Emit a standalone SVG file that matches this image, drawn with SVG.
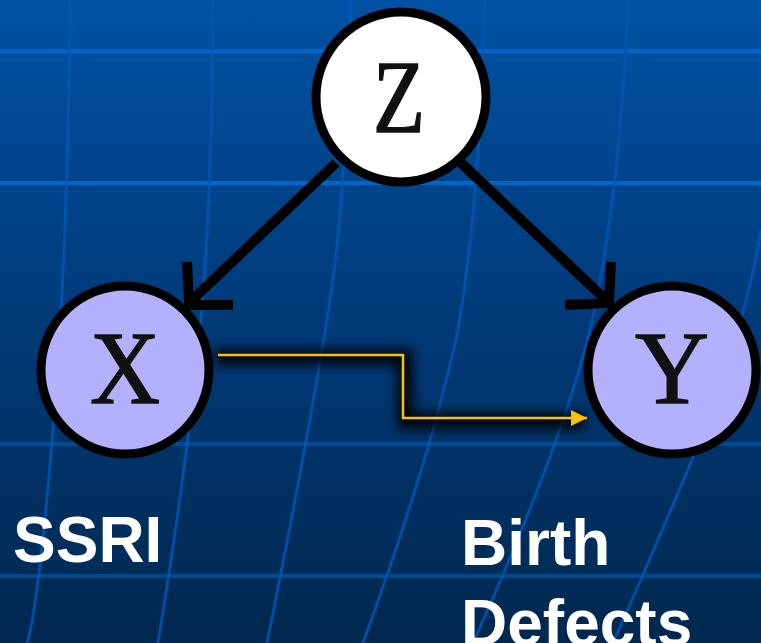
<svg xmlns="http://www.w3.org/2000/svg" width="761" height="643" viewBox="0 0 761 643">
<defs>
<linearGradient id="bg" x1="0" y1="0" x2="0" y2="1">
<stop offset="0" stop-color="#0052a4"/>
<stop offset="0.5" stop-color="#003a78"/>
<stop offset="1" stop-color="#00284f"/>
</linearGradient>
<filter id="shadow" x="-20%" y="-60%" width="140%" height="220%">
<feGaussianBlur stdDeviation="6"/>
</filter>
<marker id="tri" markerWidth="16" markerHeight="16" refX="16" refY="8" orient="auto" markerUnits="userSpaceOnUse">
<path d="M0,0 L16,8 L0,16 Z" fill="#ffc000"/>
</marker>
<style>
.node{stroke:#000;stroke-width:9}
.letter{font-family:"Liberation Serif","Times New Roman",serif;font-size:103px;fill:#111;stroke:#111;stroke-width:1.5;text-anchor:middle}
.label{font-family:"Liberation Sans",Arial,sans-serif;font-weight:bold;font-size:64px;fill:#fff}
.edge{fill:none;stroke:#000;stroke-width:10}
.gridh{stroke:#0066cc;stroke-width:4;fill:none}
.gridh2{stroke:#004a90;stroke-width:4;fill:none}
.gridv{stroke:#0058b8;stroke-width:3;fill:none;opacity:0.8}
</style>
</defs>
<rect width="761" height="643" fill="url(#bg)"/>
<g id="grid">
<line class="gridh" x1="0" y1="51" x2="761" y2="51"/>
<line class="gridh" x1="0" y1="183" x2="761" y2="183"/>
<line class="gridh2" x1="0" y1="444" x2="761" y2="444"/>
<line class="gridh2" x1="0" y1="576" x2="761" y2="576"/>
<path class="gridv" d="M70,0 Q68,250 53,430 T27,643"/>
<path class="gridv" d="M213,0 Q212,200 200,330 Q185,480 158,643"/>
<path class="gridv" d="M350,0 Q346,200 330,300 Q310,430 267,643"/>
<path class="gridv" d="M485,0 Q480,200 458,330 Q430,460 363,643"/>
<path class="gridv" d="M628,0 Q620,200 590,330 Q560,450 473,643"/>
<path class="gridv" d="M761,230 Q745,330 692,460 Q650,560 613,643"/>
</g>
<g id="connectors">
<path d="M214,357 H405 V421 H585" fill="none" stroke="#000" stroke-width="16" opacity="0.9" filter="url(#shadow)"/>
<path d="M218,355 H403 V418 H587" fill="none" stroke="#ffc000" stroke-width="2.5" marker-end="url(#tri)"/>
<path class="edge" d="M336,163 L191,301"/>
<path class="edge" d="M187,262 L189,305 L233,305" stroke-linejoin="miter"/>
<path class="edge" d="M460,162 L605,299"/>
<path class="edge" d="M611,262 L609,303 L565,305" stroke-linejoin="miter"/>
</g>
<g id="Z">
<circle class="node" cx="401" cy="97" r="85" fill="#fff"/>
<text class="letter" x="399" y="132" textLength="52" lengthAdjust="spacingAndGlyphs">Z</text>
</g>
<g id="X">
<circle class="node" cx="125" cy="370" r="84" fill="#b4b0fc"/>
<text class="letter" x="125" y="403" textLength="70" lengthAdjust="spacingAndGlyphs">X</text>
</g>
<g id="Y">
<circle class="node" cx="672" cy="370" r="84" fill="#b4b0fc"/>
<text class="letter" x="672" y="403" textLength="74" lengthAdjust="spacingAndGlyphs">Y</text>
</g>
<g id="labels">
<text class="label" x="13" y="562">SSRI</text>
<text class="label" x="461" y="565">Birth</text>
<text class="label" x="461" y="645">Defects</text>
</g>
</svg>
